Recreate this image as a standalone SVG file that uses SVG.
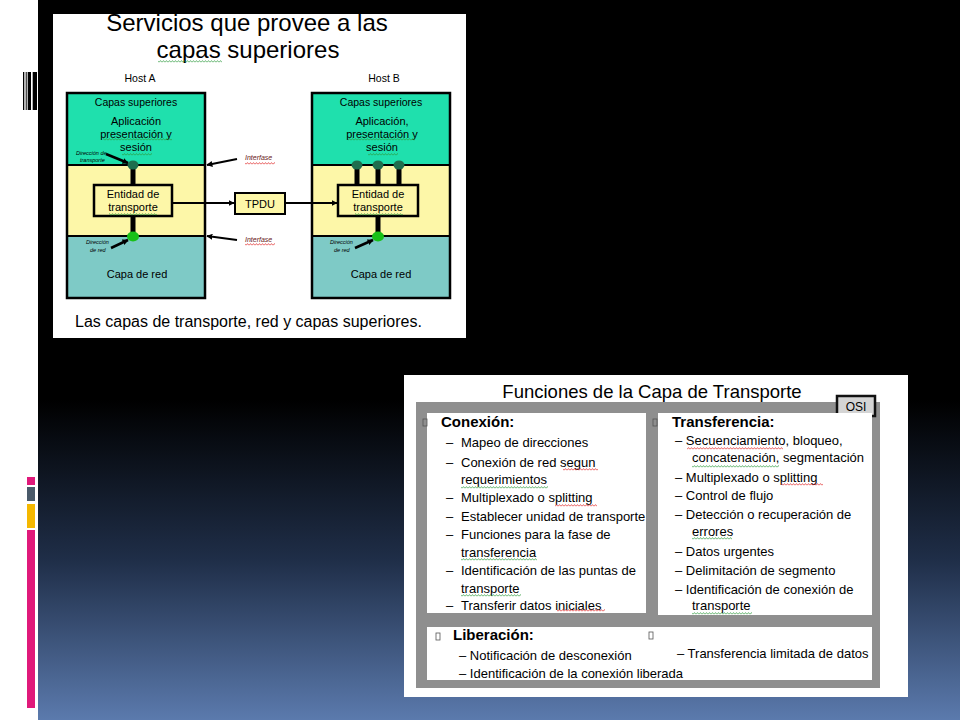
<svg xmlns="http://www.w3.org/2000/svg" width="960" height="720" viewBox="0 0 960 720">
<defs>
<linearGradient id="bg" gradientUnits="userSpaceOnUse" x1="0" y1="400" x2="0" y2="720">
<stop offset="0" stop-color="#000"/>
<stop offset="0.5" stop-color="#1f2e48"/>
<stop offset="1" stop-color="#5b7aad"/>
</linearGradient>
<marker id="ah" viewBox="0 0 10 10" refX="9" refY="5" markerWidth="6" markerHeight="6" orient="auto" markerUnits="userSpaceOnUse">
<path d="M0 0 L10 5 L0 10 z" fill="#000"/>
</marker>
<marker id="ahs" viewBox="0 0 10 10" refX="9" refY="5" markerWidth="6" markerHeight="6" orient="auto" markerUnits="userSpaceOnUse">
<path d="M0 0 L10 5 L0 10 z" fill="#000"/>
</marker>
<pattern id="wr" width="3" height="3" patternUnits="userSpaceOnUse"><path d="M0 2.4 L1.5 0.6 L3 2.4" stroke="#e02020" stroke-width="0.7" fill="none"/></pattern>
<pattern id="wg" width="3" height="3" patternUnits="userSpaceOnUse"><path d="M0 2.4 L1.5 0.6 L3 2.4" stroke="#2a9a3a" stroke-width="0.7" fill="none"/></pattern>
</defs>
<style>
text{font-family:"Liberation Sans",Arial,sans-serif;fill:#000}
.m{text-anchor:middle}
.lbl{font-size:10.5px}
.ent{font-size:11px}
.tiny{font-size:5.5px;font-style:italic}
.itf{font-size:7px;font-style:italic;fill:#6a1818}
.box{stroke:#000;stroke-width:2.5}
.gr{fill:#1fe0ad}
.ye{fill:#fdf7a8}
.te{fill:#7ecac6}
.stem{stroke:#000;stroke-width:5}
.dk{fill:#1e6e4e}
.lg{fill:#18c018}
.con{stroke:#000;stroke-width:2;fill:none}
.thin{stroke:#000;stroke-width:1.5;fill:none}
.pt{stroke:#000;stroke-width:2.5;fill:none}
.hd{font-size:15px;font-weight:bold}
.it{font-size:13px}
.tofu{fill:none;stroke:#555;stroke-width:0.8}
.panel{fill:#fff}
</style>

<!-- background -->
<rect x="0" y="0" width="960" height="720" fill="url(#bg)"/>
<rect x="0" y="0" width="38" height="720" fill="#fff"/>
<g id="decor-top">
<rect x="23" y="72" width="1.3" height="38" fill="#000"/>
<rect x="25.7" y="72" width="1" height="38" fill="#000"/>
<rect x="27.7" y="72" width="3.3" height="38" fill="#000"/>
<rect x="32.7" y="72" width="4.3" height="38" fill="#000"/>
</g>
<g id="decor-bottom">
<rect x="27" y="477" width="8" height="8" fill="#e0197a"/>
<rect x="27" y="487" width="8" height="14" fill="#4a5a6a"/>
<rect x="27" y="504" width="8" height="24" fill="#f5b800"/>
<rect x="27" y="530" width="8" height="178" fill="#e0197a"/>
</g>

<!-- ===== Top diagram ===== -->
<rect x="53" y="14" width="413" height="324" fill="#fff"/>
<g id="title-top">
<text x="247" y="31" class="m" style="font-size:24px">Servicios que provee a las</text>
<text x="248" y="58" class="m" style="font-size:24px">capas superiores</text>
<rect x="158" y="60" width="64" height="3" fill="url(#wg)"/>
</g>

<g id="hostA">
<text x="140" y="82" class="m lbl">Host A</text>
<rect x="67" y="93" width="138" height="72" class="gr"/>
<rect x="67" y="165" width="138" height="71" class="ye"/>
<rect x="67" y="236" width="138" height="62" class="te"/>
<line x1="67" y1="165" x2="205" y2="165" stroke="#000" stroke-width="2"/>
<line x1="67" y1="236" x2="205" y2="236" stroke="#000" stroke-width="2"/>
<rect x="67" y="93" width="138" height="205" fill="none" class="box"/>
<text x="136" y="106" class="m lbl">Capas superiores</text>
<text x="136" y="125" class="m ent">Aplicación</text>
<text x="136" y="137.5" class="m ent">presentación y</text>
<text x="136" y="150.5" class="m ent">sesión</text>
<rect x="103" y="138" width="69" height="3" fill="url(#wg)"/>
<rect x="122" y="153" width="30" height="3" fill="url(#wg)"/>
<line x1="133" y1="165" x2="133" y2="185" class="stem"/>
<line x1="133" y1="216" x2="133" y2="236" class="stem"/>
<ellipse cx="133" cy="165" rx="5.5" ry="4.5" class="dk"/>
<ellipse cx="133" cy="236.5" rx="6" ry="5" class="lg"/>
<text x="76" y="155" class="tiny">Dirección de</text>
<text x="80" y="161.5" class="tiny">transporte</text>
<text x="137" y="278" class="m ent">Capa de red</text>
<text x="86" y="244" class="tiny">Dirección</text>
<text x="90" y="252" class="tiny">de red</text>
</g>

<g id="entidadA">
<rect x="94" y="185" width="78" height="31" class="ye box"/>
<text x="133" y="198" class="m ent">Entidad de</text>
<text x="133" y="211" class="m ent">transporte</text>
<rect x="109" y="213" width="48" height="3" fill="url(#wg)"/>
</g>

<g id="hostB">
<text x="384" y="82" class="m lbl">Host B</text>
<rect x="312" y="93" width="138" height="72" class="gr"/>
<rect x="312" y="165" width="138" height="71" class="ye"/>
<rect x="312" y="236" width="138" height="62" class="te"/>
<line x1="312" y1="165" x2="450" y2="165" stroke="#000" stroke-width="2"/>
<line x1="312" y1="236" x2="450" y2="236" stroke="#000" stroke-width="2"/>
<rect x="312" y="93" width="138" height="205" fill="none" class="box"/>
<text x="381" y="106" class="m lbl">Capas superiores</text>
<text x="382" y="125" class="m ent">Aplicación,</text>
<text x="382" y="137.5" class="m ent">presentación y</text>
<text x="382" y="150.5" class="m ent">sesión</text>
<rect x="348" y="138" width="67" height="3" fill="url(#wg)"/>
<rect x="368" y="153" width="30" height="3" fill="url(#wg)"/>
<line x1="357" y1="165" x2="357" y2="185" class="stem"/>
<line x1="378" y1="165" x2="378" y2="185" class="stem"/>
<line x1="399" y1="165" x2="399" y2="185" class="stem"/>
<line x1="378" y1="216" x2="378" y2="236" class="stem"/>
<ellipse cx="357" cy="165" rx="5.5" ry="4.5" class="dk"/>
<ellipse cx="378" cy="165" rx="5.5" ry="4.5" class="dk"/>
<ellipse cx="399" cy="165" rx="5.5" ry="4.5" class="dk"/>
<ellipse cx="378" cy="236.5" rx="6" ry="5" class="lg"/>
<text x="381" y="278" class="m ent">Capa de red</text>
<text x="330" y="244" class="tiny">Dirección</text>
<text x="334" y="252" class="tiny">de red</text>
</g>

<g id="entidadB">
<rect x="338" y="185" width="80" height="31" class="ye box"/>
<text x="378" y="198" class="m ent">Entidad de</text>
<text x="378" y="211" class="m ent">transporte</text>
<rect x="355" y="213" width="48" height="3" fill="url(#wg)"/>
</g>

<g id="tpdu">
<rect x="235" y="193" width="50" height="21" class="ye" stroke="#000" stroke-width="2"/>
<text x="260" y="208" class="m ent">TPDU</text>
</g>

<g id="interfase-labels">
<text x="245" y="160" class="itf">Interfase</text>
<rect x="245" y="162" width="30" height="3" fill="url(#wr)"/>
<text x="245" y="242" class="itf">Interfase</text>
<rect x="245" y="243" width="30" height="3" fill="url(#wr)"/>
</g>

<g id="connectors-top">
<line x1="172" y1="203" x2="234" y2="203" class="con" marker-end="url(#ah)"/>
<line x1="285" y1="203" x2="337" y2="203" class="con" marker-end="url(#ah)"/>
<line x1="237" y1="159" x2="207" y2="165" class="con" marker-end="url(#ah)"/>
<line x1="237" y1="240" x2="207" y2="236" class="con" marker-end="url(#ah)"/>
<line x1="106" y1="154" x2="128" y2="163" class="pt" marker-end="url(#ahs)"/>
<line x1="111" y1="248" x2="128" y2="240" class="pt" marker-end="url(#ahs)"/>
<line x1="355" y1="248" x2="373" y2="240" class="pt" marker-end="url(#ahs)"/>
</g>

<text x="75" y="327" style="font-size:16px">Las capas de transporte, red y capas superiores.</text>

<!-- ===== Bottom-right diagram ===== -->
<rect x="404" y="375" width="504" height="322" fill="#fff"/>
<text x="652" y="398" class="m" style="font-size:18.5px">Funciones de la Capa de Transporte</text>
<rect x="416" y="402" width="464" height="286" fill="#8f8f8f"/>

<g id="osi">
<rect x="837" y="396" width="38" height="20" fill="#d4d4d4" stroke="#111" stroke-width="2.5"/>
<text x="856" y="411" class="m" style="font-size:12px">OSI</text>
</g>

<g id="conexion">
<rect x="427" y="413" width="219" height="200" class="panel"/>
<rect x="423" y="419" width="4" height="7" class="tofu"/>
<text x="441" y="427" class="hd">Conexión:</text>
<g class="it">
<text x="446" y="447" class="it">–</text><text x="461" y="447" class="it">Mapeo de direcciones</text>
<text x="446" y="467" class="it">–</text><text x="461" y="467" class="it">Conexión de red segun</text>
<text x="461" y="484" class="it">requerimientos</text>
<text x="446" y="502" class="it">–</text><text x="461" y="502" class="it">Multiplexado o splitting</text>
<text x="446" y="521" class="it">–</text><text x="461" y="521" class="it">Establecer unidad de transporte</text>
<text x="446" y="539" class="it">–</text><text x="461" y="539" class="it">Funciones para la fase de</text>
<text x="461" y="557" class="it">transferencia</text>
<text x="446" y="575" class="it">–</text><text x="461" y="575" class="it">Identificación de las puntas de</text>
<text x="461" y="593" class="it">transporte</text>
<text x="446" y="610" class="it">–</text><text x="461" y="610" class="it">Transferir datos iniciales</text>
</g>
<rect x="563" y="468" width="35" height="3" fill="url(#wr)"/>
<rect x="461" y="486" width="87" height="3" fill="url(#wg)"/>
<rect x="555" y="504" width="42" height="3" fill="url(#wr)"/>
<rect x="461" y="558" width="76" height="3" fill="url(#wg)"/>
<rect x="461" y="594" width="60" height="3" fill="url(#wg)"/>
<rect x="557" y="609" width="48" height="3" fill="url(#wr)"/>
</g>

<g id="transferencia">
<rect x="658" y="413" width="214" height="202" class="panel"/>
<rect x="653" y="419" width="4" height="7" class="tofu"/>
<text x="672" y="427" class="hd">Transferencia:</text>
<text x="675" y="445" class="it">– Secuenciamiento,  bloqueo,</text>
<text x="692" y="462" class="it">concatenación, segmentación</text>
<text x="675" y="482" class="it">– Multiplexado o splitting</text>
<text x="675" y="500" class="it">– Control de flujo</text>
<text x="675" y="519" class="it">– Detección o recuperación  de</text>
<text x="692" y="536" class="it">errores</text>
<text x="675" y="556" class="it">– Datos urgentes</text>
<text x="675" y="575" class="it">– Delimitación de segmento</text>
<text x="675" y="594" class="it">– Identificación de conexión de</text>
<text x="692" y="610" class="it">transporte</text>
<rect x="687" y="447" width="96" height="3" fill="url(#wr)"/>
<rect x="692" y="465" width="87" height="3" fill="url(#wg)"/>
<rect x="781" y="483" width="42" height="3" fill="url(#wr)"/>
<rect x="692" y="537" width="40" height="3" fill="url(#wg)"/>
<rect x="692" y="612" width="60" height="3" fill="url(#wg)"/>
</g>

<g id="liberacion">
<rect x="427" y="627" width="445" height="53" class="panel"/>
<rect x="436" y="633" width="4" height="7" class="tofu"/>
<rect x="649" y="632" width="4" height="7" class="tofu"/>
<text x="453" y="640" class="hd">Liberación:</text>
<text x="459" y="660" class="it">– Notificación de desconexión</text>
<text x="459" y="678" class="it">– Identificación de la conexión liberada</text>
<text x="677" y="658" class="it">– Transferencia  limitada de datos</text>
</g>
</svg>
